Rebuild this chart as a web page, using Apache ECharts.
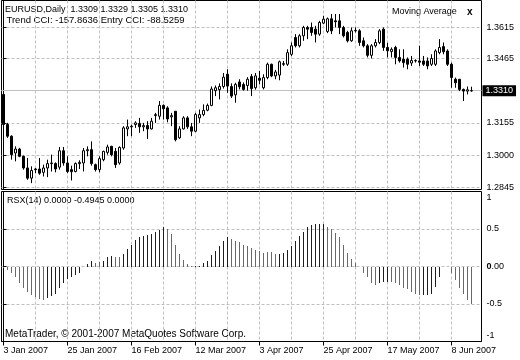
<!DOCTYPE html>
<html><head><meta charset="utf-8">
<script src="https://cdn.jsdelivr.net/npm/echarts@6/dist/echarts.min.js"></script>
<style>html,body{margin:0;padding:0;background:#fff;}#c{width:520px;height:360px;}</style>
</head><body><div id="c"></div>
<script>
// ---- data ----
const opens = [1.3292,1.3147,1.3091,1.3010,1.3029,1.2994,1.2938,1.2889,1.2933,1.2933,1.2917,1.2938,1.2959,1.2959,1.2942,1.3021,1.2962,1.2930,1.2921,1.2959,
1.2962,1.3021,1.3026,1.2954,1.2930,1.2978,1.3013,1.3042,1.3018,1.2962,1.3034,1.3126,1.3139,1.3147,1.3152,1.3136,1.3142,1.3126,1.3190,1.3187,
1.3239,1.3227,1.3184,1.3211,1.3083,1.3126,1.3179,1.3136,1.3115,1.3179,1.3195,1.3216,1.3239,1.3310,1.3315,1.3330,1.3389,1.3330,1.3290,1.3352,
1.3340,1.3335,1.3378,1.3324,1.3370,1.3324,1.3373,1.3437,1.3381,1.3385,1.3440,1.3437,1.3485,1.3566,1.3526,1.3574,1.3614,1.3614,1.3606,1.3582,
1.3635,1.3595,1.3656,1.3646,1.3646,1.3614,1.3590,1.3550,1.3598,1.3598,1.3550,1.3526,1.3480,1.3526,1.3542,1.3606,1.3518,1.3498,1.3518,1.3470,
1.3461,1.3461,1.3443,1.3453,1.3453,1.3453,1.3453,1.3437,1.3437,1.3493,1.3522,1.3501,1.3437,1.3365,1.3365,1.3316,1.3308,1.3309];
const closes = [1.3147,1.3091,1.3002,1.3029,1.2994,1.2938,1.2889,1.2926,1.2930,1.2913,1.2938,1.2959,1.2962,1.2933,1.3021,1.2962,1.2921,1.2920,1.2959,1.2965,
1.3021,1.3026,1.2959,1.2930,1.2983,1.3018,1.3039,1.3002,1.2954,1.3037,1.3131,1.3136,1.3136,1.3155,1.3136,1.3142,1.3126,1.3163,1.3195,1.3239,
1.3223,1.3174,1.3190,1.3074,1.3126,1.3179,1.3136,1.3115,1.3195,1.3195,1.3215,1.3239,1.3318,1.3324,1.3330,1.3375,1.3332,1.3284,1.3340,1.3329,
1.3316,1.3365,1.3320,1.3381,1.3360,1.3373,1.3437,1.3381,1.3400,1.3449,1.3437,1.3493,1.3526,1.3526,1.3574,1.3614,1.3606,1.3590,1.3582,1.3638,
1.3654,1.3656,1.3598,1.3642,1.3614,1.3574,1.3550,1.3598,1.3600,1.3542,1.3526,1.3480,1.3526,1.3542,1.3598,1.3518,1.3502,1.3509,1.3470,1.3453,
1.3445,1.3437,1.3455,1.3455,1.3447,1.3437,1.3429,1.3465,1.3501,1.3518,1.3497,1.3437,1.3373,1.3348,1.3316,1.3308,1.3314,1.3310];
const lows = [1.3139,1.3083,1.2978,1.2970,1.2990,1.2930,1.2881,1.2865,1.2913,1.2905,1.2897,1.2894,1.2921,1.2917,1.2930,1.2949,1.2913,1.2878,1.2917,1.2933,
1.2921,1.2994,1.2949,1.2921,1.2917,1.2970,1.3002,1.2994,1.2938,1.2954,1.3026,1.3091,1.3091,1.3131,1.3107,1.3115,1.3078,1.3123,1.3155,1.3171,
1.3171,1.3158,1.3139,1.3066,1.3078,1.3123,1.3126,1.3091,1.3110,1.3155,1.3187,1.3211,1.3235,1.3284,1.3268,1.3320,1.3300,1.3275,1.3252,1.3316,
1.3310,1.3310,1.3284,1.3315,1.3340,1.3316,1.3365,1.3375,1.3365,1.3360,1.3429,1.3429,1.3477,1.3518,1.3518,1.3550,1.3558,1.3574,1.3542,1.3574,
1.3630,1.3587,1.3582,1.3614,1.3582,1.3566,1.3542,1.3545,1.3590,1.3526,1.3518,1.3470,1.3465,1.3518,1.3534,1.3502,1.3470,1.3470,1.3437,1.3445,
1.3421,1.3413,1.3429,1.3445,1.3429,1.3429,1.3413,1.3429,1.3429,1.3485,1.3485,1.3429,1.3324,1.3324,1.3308,1.3260,1.3292,1.3305];
const highs = [1.3300,1.3155,1.3095,1.3042,1.3035,1.2998,1.2986,1.2946,1.2938,1.2986,1.2954,1.2978,1.3002,1.2965,1.3039,1.3039,1.2994,1.2949,1.2965,1.2975,
1.3034,1.3042,1.3066,1.2959,1.2994,1.3021,1.3050,1.3045,1.3034,1.3042,1.3139,1.3171,1.3147,1.3163,1.3179,1.3155,1.3163,1.3179,1.3203,1.3260,
1.3244,1.3235,1.3203,1.3211,1.3139,1.3187,1.3187,1.3155,1.3203,1.3219,1.3244,1.3248,1.3330,1.3335,1.3345,1.3395,1.3413,1.3345,1.3348,1.3365,
1.3350,1.3375,1.3390,1.3395,1.3405,1.3389,1.3445,1.3440,1.3410,1.3455,1.3453,1.3509,1.3542,1.3582,1.3582,1.3622,1.3622,1.3638,1.3622,1.3646,
1.3670,1.3662,1.3679,1.3679,1.3679,1.3622,1.3598,1.3614,1.3614,1.3606,1.3566,1.3534,1.3534,1.3558,1.3606,1.3614,1.3540,1.3518,1.3526,1.3509,
1.3509,1.3470,1.3477,1.3461,1.3526,1.3477,1.3470,1.3485,1.3509,1.3558,1.3542,1.3509,1.3445,1.3373,1.3365,1.3320,1.3330,1.3329];
const rsxValues = [-0.02,-0.05,-0.092,-0.145,-0.217,-0.28,-0.338,-0.383,-0.413,-0.436,-0.44,-0.418,-0.396,-0.36,-0.28,-0.226,-0.172,-0.145,-0.114,-0.092,
-0.01,0.036,0.067,0.045,0.055,0.076,0.121,0.134,0.121,0.121,0.17,0.233,0.291,0.358,0.389,0.403,0.416,0.434,0.456,0.492,
0.523,0.506,0.438,0.282,0.166,0.089,0.036,0.005,0.005,0.01,0.045,0.067,0.148,0.201,0.268,0.336,0.389,0.371,0.336,0.322,
0.29,0.268,0.246,0.224,0.201,0.179,0.192,0.188,0.166,0.166,0.179,0.224,0.277,0.336,0.403,0.461,0.528,0.559,0.568,0.573,
0.573,0.528,0.501,0.447,0.389,0.291,0.179,0.103,0.045,0,-0.083,-0.145,-0.217,-0.248,-0.226,-0.204,-0.204,-0.204,-0.226,-0.248,
-0.28,-0.306,-0.338,-0.36,-0.383,-0.383,-0.383,-0.36,-0.271,-0.136,-0.01,0,-0.091,-0.181,-0.285,-0.373,-0.44,-0.4945];
const rsxTone = ['MMMMMMMMMMM','BBBBBBBBBBBB','MM','BBB','MM','BBBBBBBBBBB','MMMMMMM','BBBBBBBBB','MMMMMMMMMMMM',
  'BBBBBBBBBBBB','MMMMMMMMMMMMM','BBB','MMMMMMMM','BBBBBBB','MMMMMM'].join('').split('');
const dateLabels = ['3 Jan 2007','25 Jan 2007','16 Feb 2007','12 Mar 2007','3 Apr 2007','25 Apr 2007','17 May 2007','8 Jun 2007'];
const priceTicks = [1.2845,1.3000,1.3155,1.3310,1.3465,1.3615];
const priceLabelTicks = [1.2845,1.3000,1.3155,1.3465,1.3615];
const rsxGridTicks = [-0.5,0,0.5];
const rsxLabelPos = [-0.92,-0.5,0,0.5,0.92];
const rsxLabelText = ['-1','-0.5','{b|0}.00','0.5','1'];

// ---- layout helpers ----
const FONT = '"Liberation Sans", Arial, sans-serif';
const BLUE = '#0000ff', MAGENTA = '#ff00ff';
const nSlots = 120;
const gridCols = [], labelCols = [];
for (let k = 0; k < opens.length; k += 8) gridCols.push(k);
for (let k = 0; k < opens.length; k += 16) labelCols.push(k);

const candleData = opens.map((o, i) => [i, o, closes[i], lows[i], highs[i]]);
const rsxData = rsxValues.map((v, i) => [i, v]);

const dash = {color: '#c0c0c0', type: [3, 2], width: 1};
const xBase = {type: 'value', min: -0.5, max: nSlots - 0.5};

const chart = echarts.init(document.getElementById('c'), null, {renderer: 'canvas'});
chart.setOption({
  animation: false,
  backgroundColor: '#fff',
  textStyle: {fontFamily: FONT},
  grid: [
    {left: 1.5, top: 0.5, width: 480, height: 189, show: true, borderColor: '#000', borderWidth: 1, backgroundColor: 'transparent', outerBoundsMode: 'none'},
    {left: 1.5, top: 191.5, width: 480, height: 150, show: true, borderColor: '#000', borderWidth: 1, backgroundColor: 'transparent', outerBoundsMode: 'none'}
  ],
  xAxis: [
    Object.assign({}, xBase, {gridIndex: 0, position: 'bottom', axisLine: {show: false}, axisLabel: {show: false},
      axisTick: {show: false, customValues: gridCols}, splitLine: {show: true, lineStyle: dash}}),
    Object.assign({}, xBase, {gridIndex: 1, position: 'top', axisLine: {show: false}, axisLabel: {show: false},
      axisTick: {show: false, customValues: gridCols}, splitLine: {show: true, lineStyle: dash}}),
    Object.assign({}, xBase, {gridIndex: 1, position: 'bottom', axisLine: {show: true, lineStyle: {color: '#000'}},
      axisTick: {show: true, length: 4, customValues: labelCols, lineStyle: {color: '#000'}},
      axisLabel: {show: true, customValues: labelCols, align: 'left', margin: 5, fontSize: 9, color: '#000', fontFamily: FONT,
        formatter: v => dateLabels[Math.round(v / 16)]},
      splitLine: {show: false}})
  ],
  yAxis: [
    {gridIndex: 0, type: 'value', position: 'right', min: 1.28344, max: 1.37439,
      axisLine: {show: true, lineStyle: {color: '#000'}},
      axisTick: {show: true, length: 3, customValues: priceTicks, lineStyle: {color: '#000'}},
      axisLabel: {show: true, customValues: priceLabelTicks, margin: 5, fontSize: 9, color: '#000', fontFamily: FONT,
        formatter: v => v.toFixed(4)},
      splitLine: {show: true, lineStyle: dash}},
    {gridIndex: 1, type: 'value', position: 'right', min: -1, max: 1,
      axisLine: {show: true, lineStyle: {color: '#000'}},
      axisTick: {show: true, length: 3, customValues: rsxGridTicks, lineStyle: {color: '#000'}},
      axisLabel: {show: true, customValues: rsxLabelPos, margin: 5, fontSize: 9, color: '#000', fontFamily: FONT,
        formatter: v => { let b = 0; rsxLabelPos.forEach((p, k) => { if (Math.abs(p - v) < Math.abs(rsxLabelPos[b] - v)) b = k; }); return rsxLabelText[b]; },
        rich: {b: {fontWeight: 'bold', fontSize: 9, color: '#000', fontFamily: FONT}}},
      splitLine: {show: true, lineStyle: dash}}
  ],
  series: [
    {type: 'candlestick', xAxisIndex: 0, yAxisIndex: 0, data: candleData,
      encode: {x: 0, y: [1, 2, 3, 4]}, barWidth: 2, silent: true,
      itemStyle: {color: '#ffffff', color0: '#000000', borderColor: '#000000', borderColor0: '#000000', borderColorDoji: '#000000', borderWidth: 1},
      markLine: {silent: true, symbol: ['none', 'none'], animation: false, precision: 4, z: 1,
        data: [{yAxis: closes[closes.length - 1]}],
        lineStyle: {color: '#c0c0c0', type: 'solid', width: 1},
        label: {show: true, position: 'end', distance: 1, formatter: p => Number(p.value).toFixed(4), color: '#fff',
          backgroundColor: '#000', padding: [1, 3, 1, 3], fontSize: 9, fontFamily: FONT}}},
    {type: 'custom', xAxisIndex: 1, yAxisIndex: 1, data: rsxData, silent: true, clip: true,
      encode: {x: 0, y: 1},
      renderItem: (params, api) => {
        const i = api.value(0), v = api.value(1);
        if (!v) return null;
        const p0 = api.coord([i, 0]), p1 = api.coord([i, v]);
        const x = Math.floor(p0[0]) + 0.5;
        const col = rsxTone[params.dataIndex] === 'B' ? BLUE : MAGENTA;
        return {type: 'line', shape: {x1: x, y1: Math.round(p0[1]), x2: x, y2: Math.round(p1[1])},
          style: {stroke: col, lineWidth: 1, opacity: 1}};
      }}
  ],
  graphic: [
    {type: 'text', x: 5, y: 10, style: {text: 'EURUSD,Daily  1.3309 1.3329 1.3305 1.3310', fill: '#000', font: '9px ' + FONT, verticalAlign: 'middle'}},
    {type: 'text', x: 6.5, y: 20, style: {text: 'Trend CCI: -157.8636 Entry CCI: -88.5259', fill: '#000', font: '9.5px ' + FONT, verticalAlign: 'middle'}},
    {type: 'text', x: 392, y: 12, style: {text: 'Moving Average', fill: '#000', font: '9px ' + FONT, verticalAlign: 'middle'}},
    {type: 'text', x: 467, y: 12, style: {text: 'x', fill: '#000', font: 'bold 10px ' + FONT, verticalAlign: 'middle'}},
    {type: 'text', x: 7, y: 201, style: {text: 'RSX(14) 0.0000 -0.4945 0.0000', fill: '#000', font: '9px ' + FONT, verticalAlign: 'middle'}},
    {type: 'text', x: 5, y: 334, style: {text: 'MetaTrader, \u00a9 2001-2007 MetaQuotes Software Corp.', fill: '#000', font: '10px ' + FONT, verticalAlign: 'middle'}}
  ]
});
</script>
</body></html>
